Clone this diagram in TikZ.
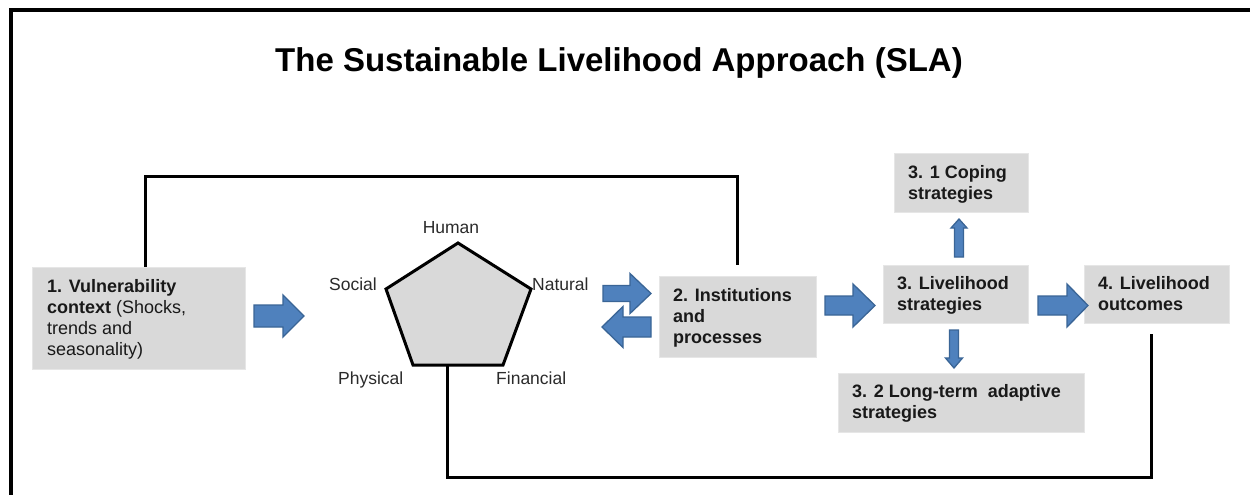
\documentclass[tikz,border=0pt]{standalone}
\usepackage{fontspec}
\setmainfont{Liberation Sans}
\usetikzlibrary{calc,fit}

\definecolor{boxgrey}{HTML}{D9D9D9}
\definecolor{boxedge}{HTML}{E6E6E6}
\definecolor{arrowblue}{HTML}{4F81BD}
\definecolor{arrowedge}{HTML}{3A6596}
\definecolor{labelgrey}{HTML}{2B2B2B}

% horizontal block arrow: start, tip, shaft half-width, head half-width, signed head length
\newcommand\BlockH[5]{%
  \path[blockarrow] let \p1=(#1), \p2=(#2) in
    (\x1,{\y1+(#3)}) -- ({\x2-(#5)},{\y1+(#3)}) -- ({\x2-(#5)},{\y1+(#4)})
    -- (\x2,\y1) -- ({\x2-(#5)},{\y1-(#4)}) -- ({\x2-(#5)},{\y1-(#3)})
    -- (\x1,{\y1-(#3)}) -- cycle;}
% vertical block arrow: same arguments
\newcommand\BlockV[5]{%
  \path[blockarrow] let \p1=(#1), \p2=(#2) in
    ({\x1-(#3)},\y1) -- ({\x1-(#3)},{\y2-(#5)}) -- ({\x1-(#4)},{\y2-(#5)})
    -- (\x1,\y2) -- ({\x1+(#4)},{\y2-(#5)}) -- ({\x1+(#3)},{\y2-(#5)})
    -- ({\x1+(#3)},\y1) -- cycle;}

\tikzset{
  box/.style={fill=boxgrey, draw=boxedge, line width=1pt, inner sep=0pt},
  boxtext/.style={anchor=north west, inner sep=0pt, align=left,
    font=\fontsize{18}{21}\selectfont, text=black!90},
  caplabel/.style={inner sep=0pt, font=\fontsize{17.5}{21}\selectfont, text=labelgrey},
  loopline/.style={line width=3pt, line join=miter},
  frameline/.style={line width=3.5pt},
  blockarrow/.style={fill=arrowblue, draw=arrowedge, line width=1.3pt, line join=miter},
  pentagon/.style={fill=boxgrey, draw=black, line width=3pt, line join=miter}
}

\begin{document}
\begin{tikzpicture}[x=1pt, y=-1pt]
\useasboundingbox (0,0) rectangle (1250,495);
\fill[white] (0,0) rectangle (1250,495);

% outer frame
\draw[frameline] (11,497) -- (11,10) -- (1252,10);

% title
\node[anchor=base, inner sep=0pt, font=\fontsize{33}{40}\selectfont\bfseries] (title)
  at (619,71) {The Sustainable Livelihood Approach (SLA)};

% boxes
\node[box, fit={(32,267) (245,369)}] (b1) {};
\node[box, fit={(659,276) (816,357)}] (b2) {};
\node[box, fit={(883,265) (1028,323)}] (b3) {};
\node[box, fit={(894,153) (1028,212)}] (b31) {};
\node[box, fit={(838,373) (1084,432)}] (b32) {};
\node[box, fit={(1084,265) (1229,323)}] (b4) {};

% box texts (first baseline 14.7 below the node top)
\node[boxtext] (t1) at (47,277.3)
  {\strut\textbf{1. Vulnerability}\\\textbf{context} (Shocks,\\trends and\\seasonality)};
\node[boxtext, font=\fontsize{18}{21}\selectfont\bfseries] (t2) at (673,286.3)
  {\strut 2. Institutions\\and\\processes};
\node[boxtext, font=\fontsize{18}{21}\selectfont\bfseries] (t3) at (897,274.3)
  {\strut 3. Livelihood\\strategies};
\node[boxtext, font=\fontsize{18}{21}\selectfont\bfseries] (t31) at (908,163.3)
  {\strut 3. 1 Coping\\strategies};
\node[boxtext, font=\fontsize{18}{21}\selectfont\bfseries] (t32) at (852,382.3)
  {\strut 3. 2 Long-term\ \ adaptive\\strategies};
\node[boxtext, font=\fontsize{18}{21}\selectfont\bfseries] (t4) at (1098,274.3)
  {\strut 4. Livelihood\\outcomes};

% asset pentagon
\coordinate (pH) at (458,243);
\coordinate (pN) at (531,289);
\coordinate (pF) at (503,365);
\coordinate (pP) at (413,365);
\coordinate (pS) at (386,289);
\coordinate (pb) at (447,365);
\draw[pentagon] (pH) -- (pN) -- (pF) -- (pP) -- (pS) -- cycle;

\node[caplabel, anchor=base] (lH) at (451,233) {Human};
\node[caplabel, anchor=base east] (lS) at (377,290) {Social};
\node[caplabel, anchor=base west] (lN) at (532,290) {Natural};
\node[caplabel, anchor=base west] (lP) at (338,384) {Physical};
\node[caplabel, anchor=base west] (lF) at (496,384) {Financial};

% feedback loops
\coordinate (topy) at (0,176);
\coordinate (boty) at (0,477);
\coordinate (lx) at (145,0);
\coordinate (rx) at (1151,0);
\draw[loopline] (b1.north -| lx) -- (lx |- topy) -- (b2.north |- topy)
  -- ($(b2.north)+(0,-11)$);
\draw[loopline] (pb) -- (pb |- boty) -- (rx |- boty) -- ($(b4.south -| rx)+(0,10)$);

% block arrows
\coordinate (a1s) at (254,316);   \coordinate (a1t) at (304,316);
\coordinate (ars) at (603,293.5); \coordinate (art) at (651,293.5);
\coordinate (als) at (651,327);   \coordinate (alt) at (602,327);
\coordinate (a2s) at (825,305.5); \coordinate (a2t) at (875,305.5);
\coordinate (a3s) at (1038,305.5);\coordinate (a3t) at (1088,305.5);
\coordinate (aus) at (959,257);   \coordinate (aut) at (959,219);
\coordinate (ads) at (954,330);   \coordinate (adt) at (954,368);

\BlockH{a1s}{a1t}{11pt}{21pt}{21pt}
\BlockH{ars}{art}{8pt}{20pt}{21pt}
\BlockH{als}{alt}{10pt}{20.5pt}{-21pt}
\BlockH{a2s}{a2t}{9.5pt}{21.5pt}{22pt}
\BlockH{a3s}{a3t}{9.5pt}{21.5pt}{21pt}
\BlockV{aus}{aut}{4.5pt}{8pt}{9pt}
\BlockV{ads}{adt}{4.5pt}{8.5pt}{-10pt}
\end{tikzpicture}
\end{document}
